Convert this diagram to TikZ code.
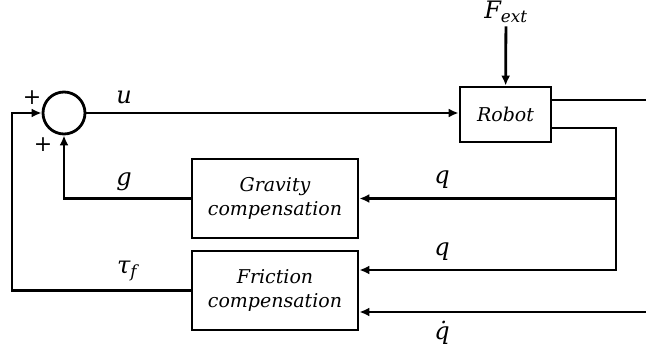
\documentclass[tikz,border=0pt]{standalone}
\usepackage{fontspec}
\setmainfont{DejaVu Serif}
\usetikzlibrary{arrows.meta}

\begin{document}
\begin{tikzpicture}[
        x=1pt,
        y=-1pt,
        wire/.style={line width=2.8pt},
        signal/.style={line width=2.8pt,-{Latex[length=10pt,width=9pt]}},
        block/.style={draw,line width=2.8pt,align=center,inner sep=0pt,
            font=\fontsize{19}{24}\selectfont\itshape},
        sum/.style={draw,circle,line width=2.8pt,minimum size=42pt,inner sep=0pt},
        sig label/.style={font=\fontsize{24}{26}\selectfont\itshape},
        sign/.style={font=\fontsize{22}{22}\selectfont}
    ]
        \useasboundingbox (0,0) rectangle (646,353);

        % The summing point and the plant.
        \node[sum] (sum) at (64,113) {};
        \node[block,minimum width=91pt,minimum height=55pt] (robot) at (505.5,114.5) {Robot};
        \node[sign] (plusa) at (32,98) {+};
        \node[sign] (plusb) at (43,145) {+};

        % The two compensation blocks.
        \node[block,minimum width=166pt,minimum height=79pt] (grav) at (275,198.5)
            {Gravity\\compensation};
        \node[block,minimum width=166pt,minimum height=79pt] (fric) at (275,290.5)
            {Friction\\compensation};

        % Forward path and the external force.
        \node[sig label] (fext) at (506,12) {F\textsubscript{ext}};
        \draw[signal] (fext) -- (robot);
        \draw[signal] (sum.east) -- (sum.east -| robot.west);
        \node[sig label] (ulabel) at (124,97) {u};

        % Outputs of the robot.
        \coordinate (out) at (646,100);
        \coordinate (tap) at (616,128);
        \coordinate (qin) at (616,270);
        \coordinate (qdin) at (646,312);
        \draw[wire] (robot.east |- out) -- (out);
        \draw[signal] (robot.east |- tap) -- (tap) -- (qin) -- (qin -| fric.east);
        \draw[signal] (tap |- grav.east) -- (grav.east);
        \draw[signal] (qdin) -- (qdin -| fric.east);
        \node[sig label] (qa) at (442,180) {q};
        \node[sig label] (qb) at (442,252) {q};
        \node[sig label] (qd) at (442,333) {\.q};

        % Feedback into the summing point.
        \coordinate (fb) at (12,290.5);
        \draw[signal] (grav.west) -| (sum.south);
        \draw[signal] (fric.west) -- (fb) |- (sum.west);
        \node[sig label] (glabel) at (124,182) {g};
        \node[sig label] (taulabel) at (127,271) {τ\textsubscript{f}};
    \end{tikzpicture}
\end{document}
